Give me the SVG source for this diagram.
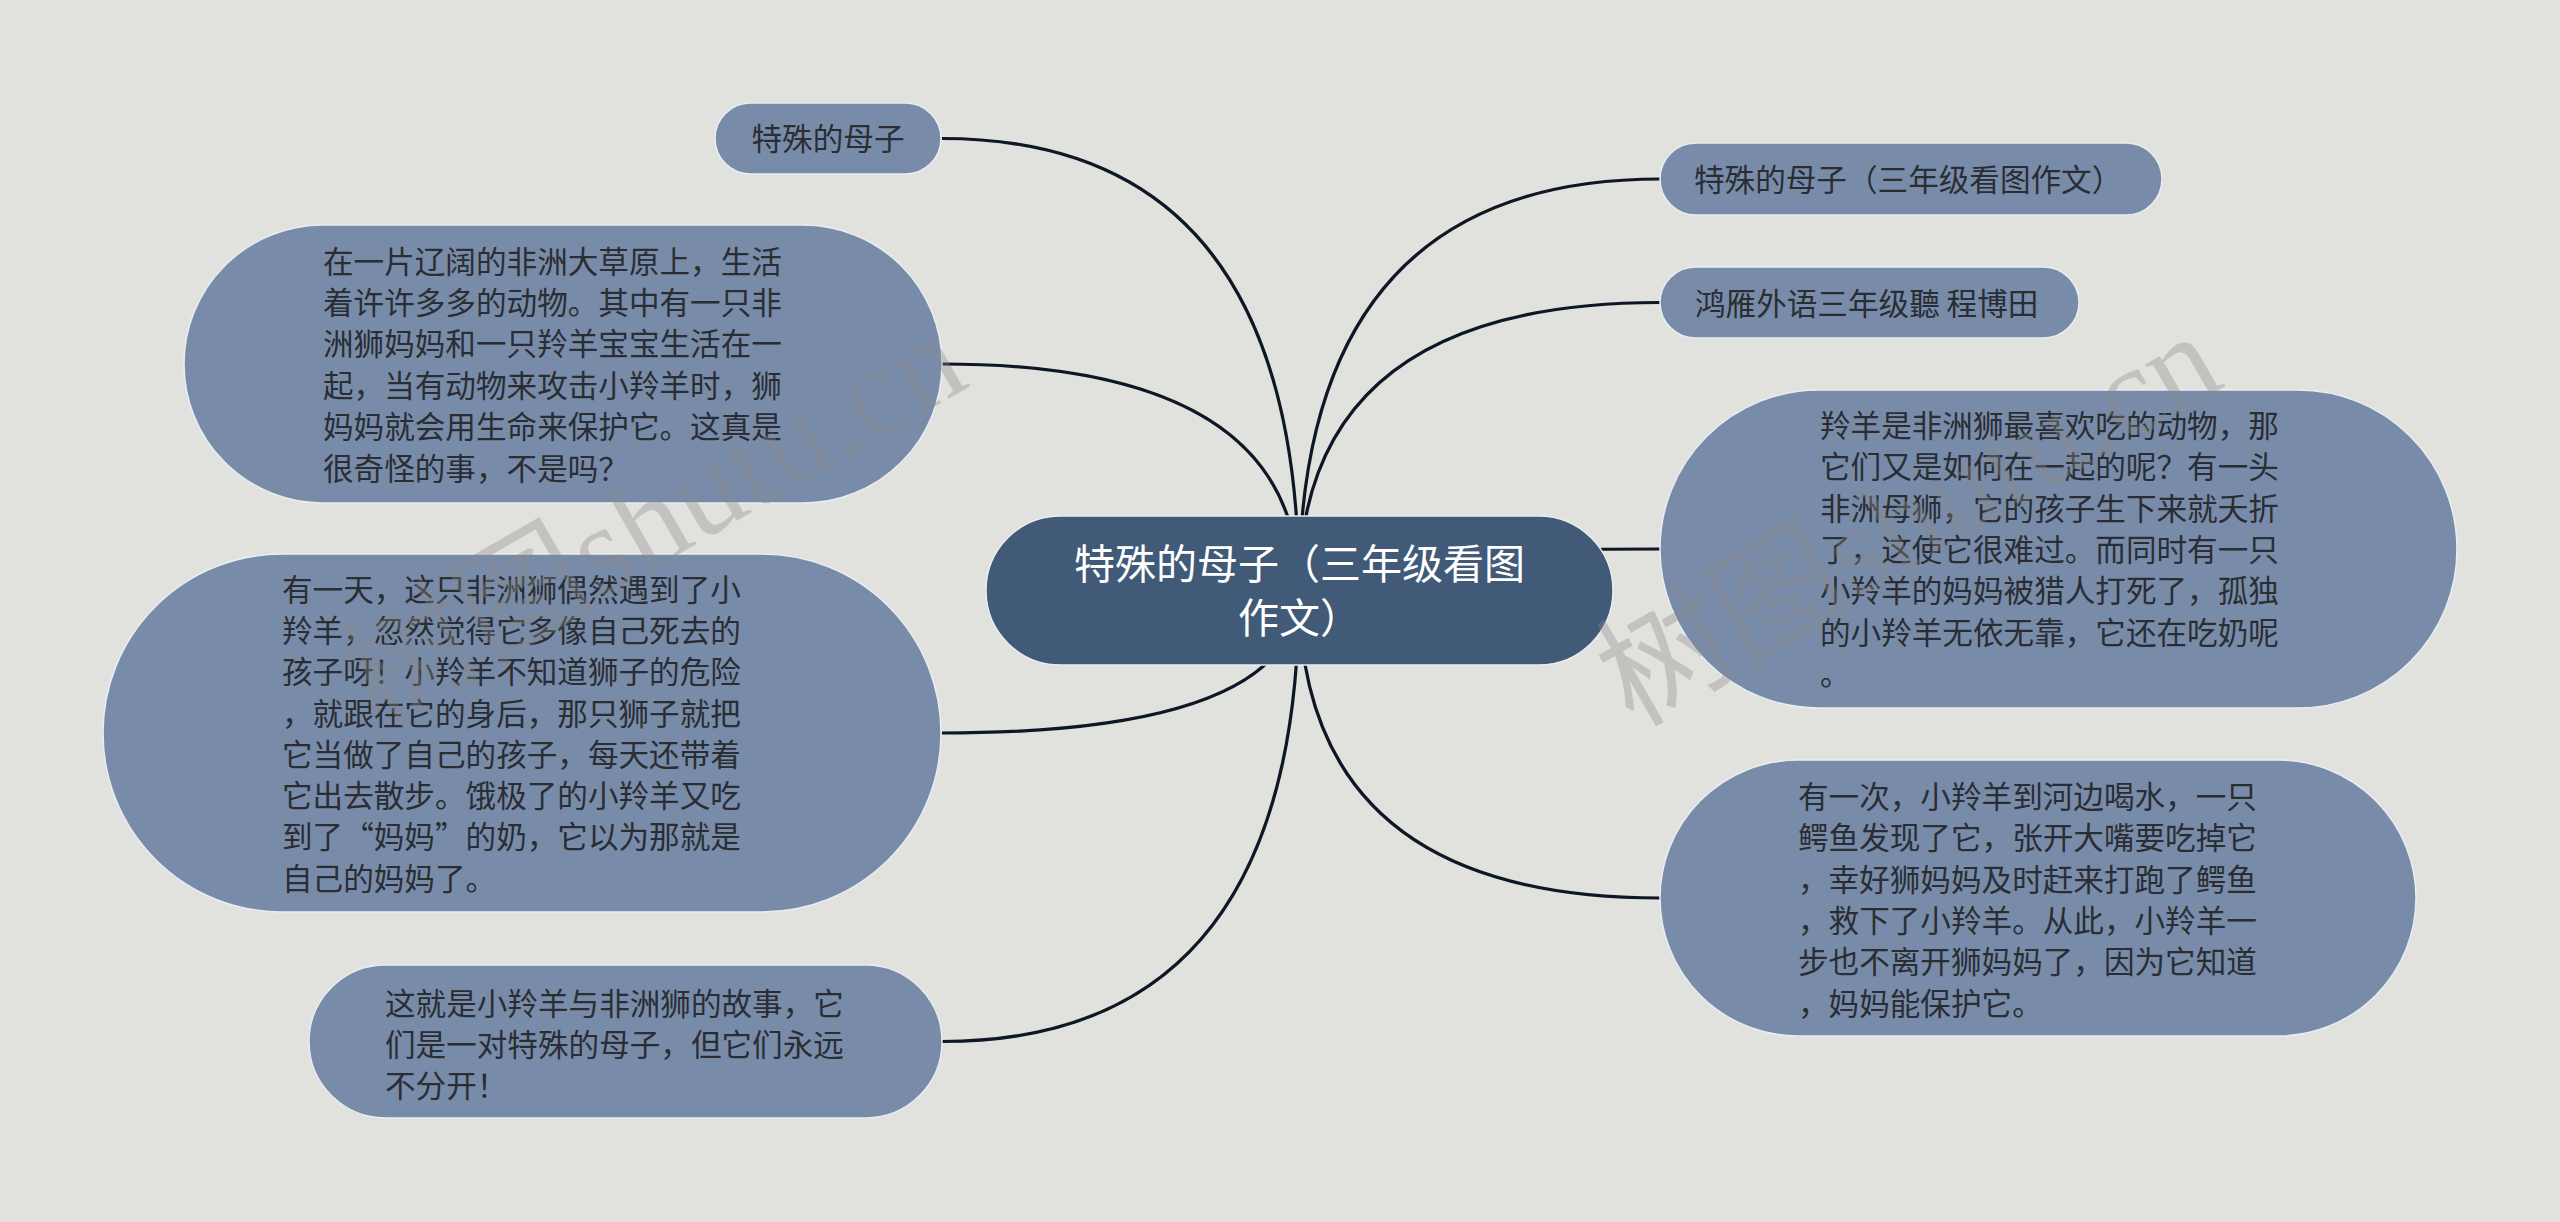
<svg xmlns="http://www.w3.org/2000/svg" width="2560" height="1222" viewBox="0 0 2560 1222">
<style>
.bg{fill:#e1e2de}
.n{fill:#788ca9;stroke:#e9edf2;stroke-width:1.5}
.c{fill:#415a78;stroke:#e9edf2;stroke-width:1.5}
.t{font-family:"Noto Sans CJK SC","Noto Sans",sans-serif;font-size:30.6px;fill:#2a2d33}
.ct{font-family:"Noto Sans CJK SC","Noto Sans",sans-serif;font-size:41px;fill:#ffffff;text-anchor:middle}
.e{fill:none;stroke:#0e1725;stroke-width:3.2}
.w{font-family:"Liberation Serif","Noto Sans CJK SC",serif;font-size:128px;fill:#8a8a8a;fill-opacity:0.36}
</style>
<rect class="bg" x="0" y="0" width="2560" height="1222"/>
<g id="connectors">
<path class="e" d="M1299 590 Q1299 138.5 942 138.5"/>
<path class="e" d="M1299 590 Q1299 364 942 364"/>
<path class="e" d="M1299 590 Q1299 733 942 733"/>
<path class="e" d="M1299 590 Q1299 1041.5 942 1041.5"/>
<path class="e" d="M1299 590 Q1299 179 1660 179"/>
<path class="e" d="M1299 590 Q1299 302.5 1660 302.5"/>
<path class="e" d="M1299 590 Q1299 549 1660 549"/>
<path class="e" d="M1299 590 Q1299 898 1660 898"/>
</g>
<g id="center">
<rect class="c" x="986" y="516" width="627" height="149" rx="74.5"/>
<text class="ct" x="1299.5" y="579">特殊的母子（三年级看图</text>
<text class="ct" x="1299.5" y="633">作文）</text>
</g>
<g id="node-l1">
<rect class="n" x="715" y="103" width="226" height="71" rx="35.5"/>
<text class="t" x="828" y="150" text-anchor="middle">特殊的母子</text>
</g>
<g id="node-l2">
<rect class="n" x="184" y="225" width="758" height="278" rx="139"/>
<text class="t" x="323" y="272.6">在一片辽阔的非洲大草原上，生活<tspan x="323" dy="41.4">着许许多多的动物。其中有一只非</tspan><tspan x="323" dy="41.4">洲狮妈妈和一只羚羊宝宝生活在一</tspan><tspan x="323" dy="41.4">起，当有动物来攻击小羚羊时，狮</tspan><tspan x="323" dy="41.4">妈妈就会用生命来保护它。这真是</tspan><tspan x="323" dy="41.4">很奇怪的事，不是吗？</tspan></text>
</g>
<g id="node-l3">
<rect class="n" x="103" y="554" width="838" height="358" rx="179"/>
<text class="t" x="282" y="600.6">有一天，这只非洲狮偶然遇到了小<tspan x="282" dy="41.3">羚羊，忽然觉得它多像自己死去的</tspan><tspan x="282" dy="41.3">孩子呀！小羚羊不知道狮子的危险</tspan><tspan x="282" dy="41.3">，就跟在它的身后，那只狮子就把</tspan><tspan x="282" dy="41.3">它当做了自己的孩子，每天还带着</tspan><tspan x="282" dy="41.3">它出去散步。饿极了的小羚羊又吃</tspan><tspan x="282" dy="41.3">到了“妈妈”的奶，它以为那就是</tspan><tspan x="282" dy="41.3">自己的妈妈了。</tspan></text>
</g>
<g id="node-l4">
<rect class="n" x="309" y="965" width="633" height="153" rx="76.5"/>
<text class="t" x="385" y="1014.6">这就是小羚羊与非洲狮的故事，它<tspan x="385" dy="41.3">们是一对特殊的母子，但它们永远</tspan><tspan x="385" dy="41.3">不分开！</tspan></text>
</g>
<g id="node-r1">
<rect class="n" x="1660" y="143" width="502" height="72" rx="36"/>
<text class="t" x="1694" y="190.6">特殊的母子（三年级看图作文）</text>
</g>
<g id="node-r2">
<rect class="n" x="1660" y="267" width="419" height="71" rx="35.5"/>
<text class="t" x="1695" y="314.6">鸿雁外语三年级聽 程博田</text>
</g>
<g id="node-r3">
<rect class="n" x="1660" y="390" width="797" height="318" rx="159"/>
<text class="t" x="1820" y="437">羚羊是非洲狮最喜欢吃的动物，那<tspan x="1820" dy="41.3">它们又是如何在一起的呢？有一头</tspan><tspan x="1820" dy="41.3">非洲母狮，它的孩子生下来就夭折</tspan><tspan x="1820" dy="41.3">了，这使它很难过。而同时有一只</tspan><tspan x="1820" dy="41.3">小羚羊的妈妈被猎人打死了，孤独</tspan><tspan x="1820" dy="41.3">的小羚羊无依无靠，它还在吃奶呢</tspan><tspan x="1820" dy="41.3">。</tspan></text>
</g>
<g id="node-r4">
<rect class="n" x="1660" y="760" width="756" height="276" rx="138"/>
<text class="t" x="1798" y="808">有一次，小羚羊到河边喝水，一只<tspan x="1798" dy="41.3">鳄鱼发现了它，张开大嘴要吃掉它</tspan><tspan x="1798" dy="41.3">，幸好狮妈妈及时赶来打跑了鳄鱼</tspan><tspan x="1798" dy="41.3">，救下了小羚羊。从此，小羚羊一</tspan><tspan x="1798" dy="41.3">步也不离开狮妈妈了，因为它知道</tspan><tspan x="1798" dy="41.3">，妈妈能保护它。</tspan></text>
</g>
<g id="watermark">
<text class="w" transform="translate(378 728) rotate(-30)">树图shutu.cn</text>
<text class="w" transform="translate(1633 728) rotate(-30)">树图shutu.cn</text>
</g>
</svg>
